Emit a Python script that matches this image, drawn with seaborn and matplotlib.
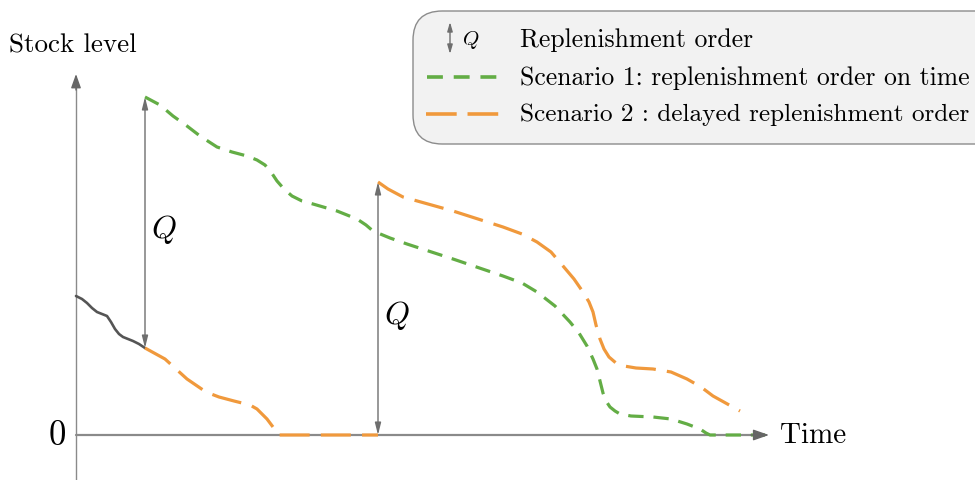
import numpy as np
import pandas as pd
import matplotlib
matplotlib.use("Agg")
import matplotlib.pyplot as plt
import seaborn as sns
from matplotlib.patches import FancyBboxPatch
from matplotlib.lines import Line2D

# ---------------- data (time units, stock units) ----------------
start_t = [0.0, 0.6, 1.1, 1.6, 2.1, 2.6, 3.1, 3.5, 3.9, 4.3, 4.7, 5.2, 5.7, 6.3, 6.9]
start_s = [13.9, 13.6, 13.2, 12.7, 12.3, 12.1, 11.9, 11.3, 10.6, 10.1, 9.8, 9.6, 9.4, 9.1, 8.7]

s1_t = [6.9, 8.4, 9.7, 11.1, 12.4, 14.1, 15.6, 17.1, 18.1, 18.9, 19.5, 20.1, 20.8,
        21.6, 22.6, 23.7, 26.1, 28.1, 29.0, 29.7, 31.4, 33.1, 37.7, 42.7, 44.6,
        46.1, 47.9, 49.4, 50.3, 51.1, 51.7, 52.1, 52.4, 52.7, 53.0, 53.4, 53.9,
        54.4, 55.5, 57.7, 59.5, 61.1, 62.4, 63.0, 63.4, 68.9]
s1_s = [33.8, 33.0, 31.9, 30.9, 29.9, 28.8, 28.3, 27.9, 27.5, 27.0, 26.3, 25.4, 24.6,
        23.9, 23.4, 23.1, 22.4, 21.6, 21.0, 20.4, 19.7, 19.1, 17.6, 15.9, 15.2,
        14.3, 12.9, 11.3, 10.2, 8.9, 7.6, 6.6, 5.4, 4.2, 3.4, 2.8, 2.4,
        2.1, 1.9, 1.8, 1.6, 1.1, 0.6, 0.2, 0.0, 0.0]

s2a_t = [6.9, 8.9, 11.1, 13.0, 14.3, 15.8, 17.4, 18.1, 18.6, 19.1, 19.4, 19.7,
         19.9, 20.2, 30.2]
s2a_s = [8.7, 7.6, 5.6, 4.3, 3.8, 3.4, 3.0, 2.6, 2.1, 1.6, 1.2, 0.8,
         0.4, 0.0, 0.0]
s2b_t = [30.2, 31.2, 32.7, 37.7, 42.7, 44.6, 46.1, 47.5, 48.7, 49.8, 50.7, 51.3,
         51.7, 52.0, 52.4, 52.8, 53.3, 54.0, 54.8, 56.0, 57.7, 59.5, 61.1, 62.5,
         63.7, 66.4]
s2b_s = [25.3, 24.6, 23.8, 22.4, 20.8, 20.1, 19.3, 18.3, 16.9, 15.6, 14.3, 13.3,
         12.3, 11.0, 9.6, 8.6, 7.8, 7.2, 6.9, 6.7, 6.6, 6.3, 5.6, 4.8,
         3.9, 2.4]

order_t = [6.9, 30.2]
order_from = [8.7, 0.0]
order_to = [33.8, 25.3]
order_label = ["Q", "Q"]

legend_labels = ["Replenishment order",
                 "Scenario 1: replenishment order on time",
                 "Scenario 2 : delayed replenishment order"]

GREEN = "#63ad45"
ORANGE = "#f0993c"
DARK = "#555555"
AXC = "#8a8a8a"
GREEN_DASH = (0, (4.8, 3.1))
ORANGE_DASH = (0, (9.4, 3.5))

sns.set_theme(style="white")
plt.rcParams["font.family"] = ["cmr10", "DejaVu Serif"]
plt.rcParams["mathtext.fontset"] = "cm"
plt.rcParams["axes.formatter.use_mathtext"] = True
plt.rcParams["text.color"] = "black"

fig = plt.figure(figsize=(9.75, 4.81), dpi=100)
ax = fig.add_axes([0, 0, 1, 1])
ax.set_xlim(-7.6, 89.9)
ax.set_ylim(-4.5, 43.6)
ax.axis("off")

# axes arrows
ax.plot([0, 0], [-4.5, 35.5], color=AXC, lw=1.0, zorder=1)
ax.annotate("", xy=(0, 36.1), xytext=(0, 34.5),
            arrowprops=dict(arrowstyle="-|>,head_length=0.7,head_width=0.25",
                            color="#666666", lw=1.0, shrinkA=0, shrinkB=0))
ax.plot([0, 68.5], [0, 0], color=AXC, lw=1.6, zorder=1)
ax.annotate("", xy=(69.3, 0), xytext=(67.5, 0),
            arrowprops=dict(arrowstyle="-|>,head_length=0.8,head_width=0.28",
                            color="#666666", lw=1.0, shrinkA=0, shrinkB=0),
            zorder=4)

# curves
df0 = pd.DataFrame({"t": start_t, "s": start_s})
sns.lineplot(data=df0, x="t", y="s", ax=ax, color=DARK, lw=1.9,
             estimator=None, sort=False, zorder=3)
df1 = pd.DataFrame({"t": s1_t, "s": s1_s})
sns.lineplot(data=df1, x="t", y="s", ax=ax, color=GREEN, lw=2.3,
             estimator=None, sort=False, linestyle=GREEN_DASH, zorder=3)
df2 = pd.DataFrame({"t": s2a_t + s2b_t, "s": s2a_s + s2b_s,
                    "seg": [0] * len(s2a_t) + [1] * len(s2b_t)})
sns.lineplot(data=df2, x="t", y="s", units="seg", ax=ax, color=ORANGE, lw=2.3,
             estimator=None, sort=False, linestyle=ORANGE_DASH, zorder=3)
ax.set_xlabel("")
ax.set_ylabel("")

# replenishment order arrows
for t, a, b, lab in zip(order_t, order_from, order_to, order_label):
    ax.annotate("", xy=(t, b), xytext=(t, a),
                arrowprops=dict(arrowstyle="<|-|>,head_length=0.6,head_width=0.15",
                                color="#6e6e6e", lw=1.0, shrinkA=0, shrinkB=0),
                zorder=4)
    ax.text(t + 0.6, (a + b) / 2 - 0.6, r"$%s$" % lab, fontsize=23,
            ha="left", va="center", color="black")

# axis labels
ax.text(-1.0, 0, "0", fontsize=25, ha="right", va="center")
ax.text(70.4, 0, "Time", fontsize=21, ha="left", va="center")
ax.text(-6.7, 39.0, "Stock level", fontsize=19.5, ha="left", va="center")

# legend box
box = FancyBboxPatch((413 / 975, 1 - 145 / 481), 0.62, (145 - 12) / 481,
                     boxstyle="round,pad=0,rounding_size=0.03",
                     transform=ax.transAxes, facecolor="#f2f2f2",
                     edgecolor="#8c8c8c", lw=1.0, zorder=5, clip_on=False,
                     mutation_aspect=975 / 481)
ax.add_patch(box)
rows_y = [1 - 40 / 481, 1 - 78 / 481, 1 - 115 / 481]
tx = 520 / 975
ax.annotate("", xy=(450 / 975, 1 - 23 / 481), xytext=(450 / 975, 1 - 55 / 481),
            xycoords="axes fraction",
            arrowprops=dict(arrowstyle="<|-|>,head_length=0.45,head_width=0.13",
                            color="#6e6e6e", lw=1.0, shrinkA=0, shrinkB=0),
            zorder=6)
ax.text(462 / 975, rows_y[0], r"$Q$", transform=ax.transAxes, fontsize=15,
        ha="left", va="center", zorder=6)
ax.add_line(Line2D([427 / 975, 498 / 975], [rows_y[1]] * 2, transform=ax.transAxes,
                   color=GREEN, lw=2.6, linestyle=(0, (4.4, 3.0)), zorder=6))
ax.add_line(Line2D([426 / 975, 499 / 975], [rows_y[2]] * 2, transform=ax.transAxes,
                   color=ORANGE, lw=2.6, linestyle=(0, (8.5, 3.0)), zorder=6))
for y, lab, fs in zip(rows_y, legend_labels, [18.5, 18.5, 18.2]):
    ax.text(tx, y, lab, transform=ax.transAxes, fontsize=fs, ha="left",
            va="center", zorder=6)

fig.savefig("out.png", dpi=100)
